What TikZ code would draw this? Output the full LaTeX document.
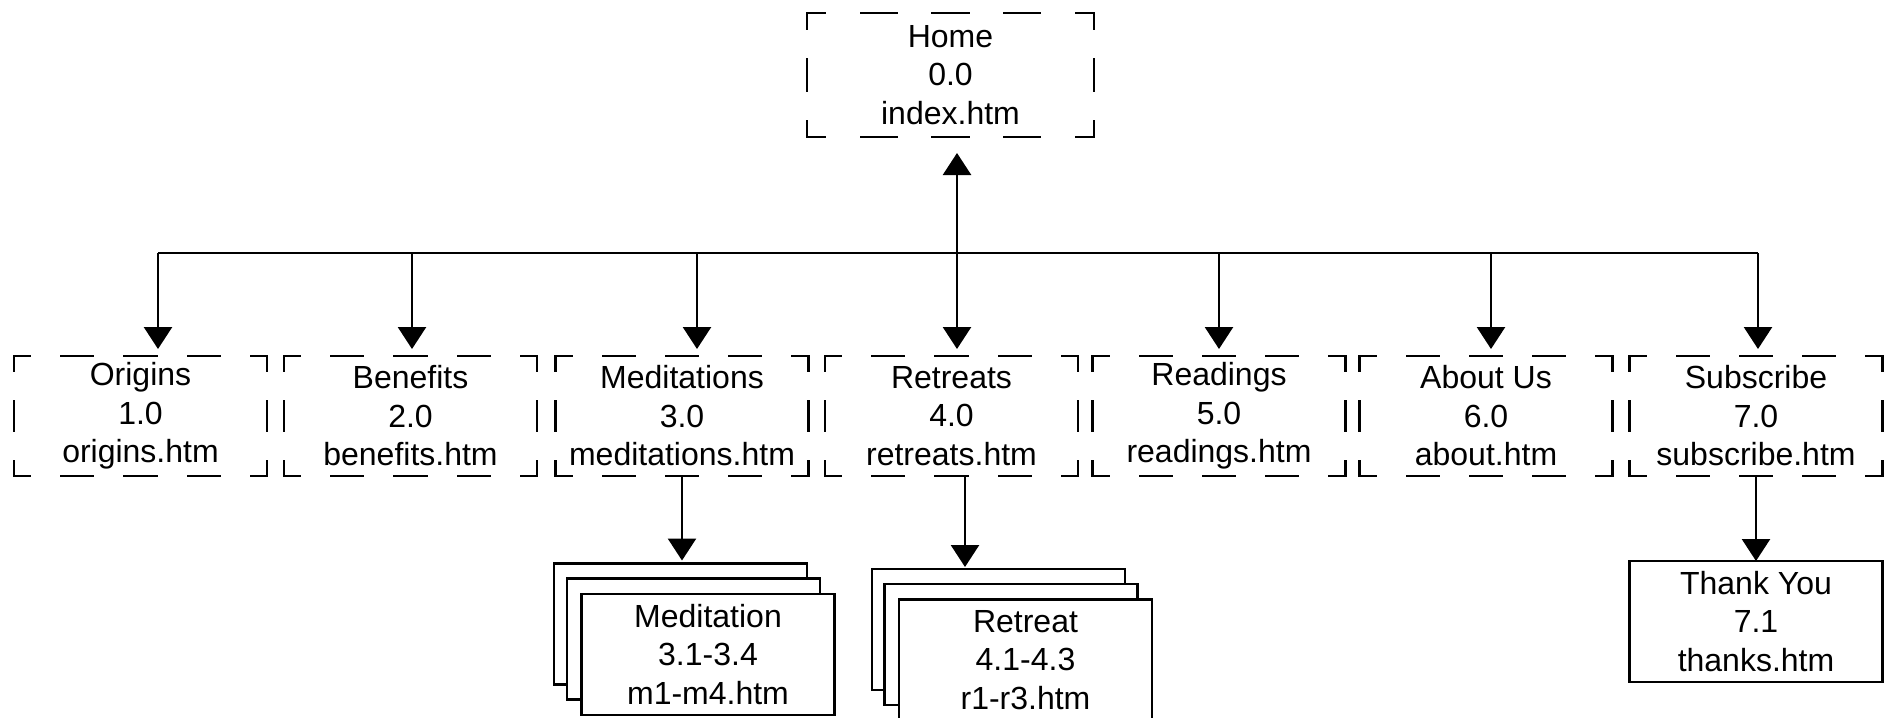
\documentclass[tikz,border=0pt]{standalone}
\usepackage{fontspec}
\setmainfont{Liberation Sans}
\usetikzlibrary{arrows.meta}

\tikzset{
  page/.style={inner sep=0pt, outer sep=0pt, align=center,
    minimum width=126.5pt, minimum height=60pt,
    font=\fontsize{16}{19.25}\selectfont},
  sub/.style={page, draw=black, fill=white, line width=1.4pt, minimum height=60.5pt},
  link/.style={line width=1.3pt, -{Triangle[width=14pt,length=11pt]}},
}

% dashed frame with L-shaped corners round a named node
\newcommand{\dashframe}[1]{%
  \pgfpointdiff{\pgfpointanchor{#1}{south west}}{\pgfpointanchor{#1}{north east}}%
  \pgfgetlastxy{\fw}{\fh}%
  \pgfmathsetmacro{\hq}{\fw/16}\pgfmathsetmacro{\hh}{\fw/8}%
  \pgfmathsetmacro{\vq}{\fh/8}\pgfmathsetmacro{\vh}{\fh/4}%
  \draw[line width=1.3pt, line cap=rect, dash pattern=on \hh pt off \hh pt, dash phase=\hq pt]
    (#1.north west) -- (#1.north east) (#1.south west) -- (#1.south east);
  \draw[line width=1.3pt, line cap=rect, dash pattern=on \vh pt off \vh pt, dash phase=\vq pt]
    (#1.north west) -- (#1.south west) (#1.north east) -- (#1.south east);}

\begin{document}
\begin{tikzpicture}[x=0.5pt, y=-0.5pt]
    \useasboundingbox (0,0) rectangle (1892,718);

    \node[page, minimum width=143.5pt, minimum height=62pt] (home) at (950.5,75) {Home\\0.0\\index.htm};

    \node[page] (origins)     at (140.5,416) {Origins\\1.0\\origins.htm};
    \node[page] (benefits)    at (410.5,416) {Benefits\\2.0\\benefits.htm};
    \node[page] (meditations) at (682,416)   {Meditations\\3.0\\meditations.htm};
    \node[page] (retreats)    at (951.5,416) {Retreats\\4.0\\retreats.htm};
    \node[page] (readings)    at (1219,416)  {Readings\\5.0\\readings.htm};
    \node[page] (about)       at (1486,416)  {About Us\\6.0\\about.htm};
    \node[page] (subscribe)   at (1756,416)  {Subscribe\\7.0\\subscribe.htm};

    \foreach \n in {home,origins,benefits,meditations,retreats,readings,about,subscribe}
        \dashframe{\n};

    % stacked pages
    \node[sub] (med3) at (680.5,624)  {};
    \node[sub] (med2) at (693.5,639)  {};
    \node[sub] (med)  at (708,654.5)  {Meditation\\3.1-3.4\\m1-m4.htm};

    \node[sub] (ret3) at (998.5,629.5) {};
    \node[sub] (ret2) at (1011,644.5)  {};
    \node[sub] (ret)  at (1025.5,660)  {Retreat\\4.1-4.3\\r1-r3.htm};

    \node[sub] (thanks) at (1756,621.5) {Thank You\\7.1\\thanks.htm};

    % bus
    \foreach \x [count=\i] in {158,412,697,957,1219,1491,1758}
        \coordinate (bus\i) at (\x,253);
    \draw[line width=1.3pt] (bus1) -- (bus7);
    \draw[link, shorten >=8pt] (bus4) -- (bus4 |- home.south);
    \foreach \i/\n in {1/origins,2/benefits,3/meditations,4/retreats,5/readings,6/about,7/subscribe}
        \draw[link, shorten >=3.5pt] (bus\i) -- (bus\i |- \n.north);

    \draw[link, shorten >=1.5pt] (meditations.south) -- (meditations.south |- med3.north);
    \draw[link, shorten >=1pt] ([xshift=6.75pt]retreats.south) -- ([xshift=6.75pt]retreats.south |- ret3.north);
    \draw[link] (subscribe.south) -- (thanks.north);

\end{tikzpicture}
\end{document}
